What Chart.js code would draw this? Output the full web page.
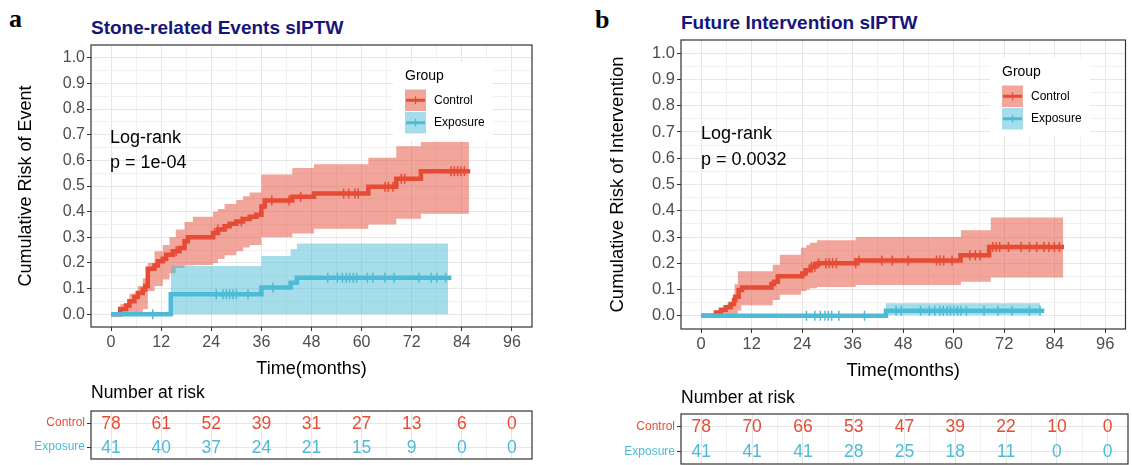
<!DOCTYPE html>
<html>
<head>
<meta charset="utf-8">
<script src="https://cdn.jsdelivr.net/npm/chart.js@4.4.1/dist/chart.umd.min.js"></script>
<style>
html, body { margin: 0; padding: 0; background: #fff; }
body { width: 1132px; height: 465px; position: relative; overflow: hidden; font-family: "Liberation Sans", Arial, sans-serif; }
canvas { position: absolute; }
.txt { position: absolute; white-space: nowrap; line-height: 1; color: #000; }
.letter { font-family: "Liberation Serif", serif; font-weight: bold; font-size: 26px; }
.title { font-weight: bold; font-size: 19px; color: #16167a; }
.pval { font-size: 18px; }
.nrisk { font-size: 17.5px; }
</style>
</head>
<body>
<div class="txt letter" style="left:9px;top:6px;">a</div>
<div class="txt title" style="left:91px;top:18px;">Stone-related Events sIPTW</div>
<div class="txt letter" style="left:595px;top:7px;">b</div>
<div class="txt title" style="left:681px;top:13px;">Future Intervention sIPTW</div>

<canvas id="plotA" width="560" height="390" style="left:0;top:0;"></canvas>
<canvas id="plotB" width="562" height="390" style="left:570px;top:0;"></canvas>
<canvas id="tableA" width="560" height="67" style="left:0;top:398px;"></canvas>
<canvas id="tableB" width="562" height="63" style="left:570px;top:402px;"></canvas>

<div class="txt pval" style="left:110px;top:128px;">Log-rank</div>
<div class="txt pval" style="left:110px;top:153px;">p = 1e-04</div>
<div class="txt pval" style="left:701px;top:124px;">Log-rank</div>
<div class="txt pval" style="left:701px;top:150px;">p = 0.0032</div>
<div class="txt nrisk" style="left:91px;top:384px;">Number at risk</div>
<div class="txt nrisk" style="left:681px;top:389px;">Number at risk</div>

<script>
// axis breaks
const months = [0, 12, 24, 36, 48, 60, 72, 84, 96];
const riskBreaks = [0, 0.1, 0.2, 0.3, 0.4, 0.5, 0.6, 0.7, 0.8, 0.9, 1.0];
const groups = ['Control', 'Exposure'];

// ---- panel a: stone-related events ----
const aCtrlT = [0, 2.2, 3.6, 4.4, 5.6, 6.4, 7.6, 8.2, 8.8, 10.4, 11.2, 12.4, 13.2, 14.8, 16.4, 17.6, 18.4, 24.4, 25.6, 27.2, 28.4, 30, 31.6, 33.2, 34.8, 36, 36.8, 43.4, 48.6, 61.6, 68.3, 74.2, 86];
const aCtrlY = [0, 0.02, 0.034, 0.05, 0.067, 0.083, 0.096, 0.11, 0.177, 0.19, 0.206, 0.216, 0.232, 0.245, 0.258, 0.284, 0.30, 0.317, 0.33, 0.343, 0.353, 0.362, 0.371, 0.38, 0.388, 0.42, 0.443, 0.458, 0.471, 0.497, 0.528, 0.558, 0.558];
const aCtrlBandT = [2.2, 4.4, 6.4, 7.6, 8.8, 10.4, 12.4, 14, 15.5, 17.6, 19.6, 24.4, 25.6, 27.2, 30, 31.6, 33.2, 36, 43.4, 48.6, 61.6, 68.3, 74.2, 85.7];
const aCtrlLo = [0, 0, 0.005, 0.02, 0.09, 0.11, 0.135, 0.16, 0.18, 0.19, 0.192, 0.2, 0.215, 0.23, 0.245, 0.26, 0.27, 0.30, 0.315, 0.333, 0.35, 0.372, 0.392, 0.392];
const aCtrlHi = [0.04, 0.08, 0.11, 0.14, 0.2, 0.245, 0.27, 0.3, 0.33, 0.36, 0.38, 0.40, 0.41, 0.43, 0.445, 0.46, 0.475, 0.545, 0.57, 0.585, 0.61, 0.655, 0.672, 0.672];
const aCtrlCens = [15.6, 24.8, 25.6, 31.2, 38.5, 42.6, 45.4, 55.7, 56.9, 58.4, 59.2, 65.6, 66.4, 67.5, 69.5, 70.3, 81.4, 82.2, 83, 83.8, 84.6];

const aExpT = [0, 14.3, 36, 43, 44.5, 81.5];
const aExpY = [0, 0.078, 0.104, 0.123, 0.142, 0.142];
const aExpBandT = [14.3, 36, 43, 44.5, 80.7];
const aExpLo = [0, 0, 0, 0, 0];
const aExpHi = [0.188, 0.227, 0.253, 0.276, 0.276];
const aExpCens = [10, 25.2, 26.8, 27.6, 28.4, 29.2, 30, 32.8, 38.8, 51.9, 54.2, 55.4, 56.3, 57.1, 58, 58.8, 61.4, 62.7, 65.6, 67.8, 73.7, 76.7, 78, 80.1];

const aRiskCtrl = [78, 61, 52, 39, 31, 27, 13, 6, 0];
const aRiskExp = [41, 40, 37, 24, 21, 15, 9, 0, 0];

// ---- panel b: future intervention ----
const bCtrlT = [0, 3.5, 4.7, 5.8, 7, 7.8, 8.1, 8.9, 9.7, 16.7, 17.3, 18.2, 24, 24.8, 26, 27.1, 27.9, 36.8, 61.6, 68.4, 86.2];
const bCtrlY = [0, 0.013, 0.023, 0.033, 0.045, 0.06, 0.073, 0.098, 0.108, 0.121, 0.13, 0.151, 0.161, 0.174, 0.187, 0.197, 0.2, 0.211, 0.231, 0.262, 0.262];
const bCtrlBandT = [3.5, 6.2, 7.9, 8.7, 9.5, 17, 18.7, 23.7, 25, 25.8, 27.5, 36.7, 61.7, 68.8, 86];
const bCtrlLo = [0, 0.003, 0.008, 0.02, 0.04, 0.06, 0.08, 0.095, 0.1, 0.105, 0.11, 0.117, 0.13, 0.146, 0.146];
const bCtrlHi = [0.02, 0.048, 0.12, 0.17, 0.17, 0.195, 0.233, 0.259, 0.27, 0.278, 0.288, 0.30, 0.326, 0.374, 0.374];
const bCtrlCens = [26.2, 27, 27.9, 29.6, 30.4, 31.2, 32.1, 36.7, 37.5, 42.9, 45.4, 49.2, 55.9, 56.7, 57.6, 59.6, 63.8, 65.1, 66.3, 69.3, 70.1, 70.9, 73, 76, 78, 79.7, 81.4, 82.6, 83.9, 85.1];

const bExpT = [0, 43.9, 81.5];
const bExpY = [0, 0.019, 0.019];
const bExpBandT = [43.9, 80.5];
const bExpLo = [0.003, 0.003];
const bExpHi = [0.048, 0.048];
const bExpCens = [25, 27, 28.3, 29.4, 30.2, 31, 32.7, 38.8, 46.3, 47.5, 52.1, 54.2, 55.5, 56.7, 57.5, 58.4, 59.2, 60, 60.9, 61.7, 63, 67.2, 70.5, 73.8, 78, 80.5];

const bRiskCtrl = [78, 70, 66, 53, 47, 39, 22, 10, 0];
const bRiskExp = [41, 41, 41, 28, 25, 18, 11, 0, 0];

// ---- styling ----
const FONT = '"Liberation Sans", Arial, sans-serif';
const RED = '#E64B35', BLUE = '#4DBBD5';
const RED_FILL = 'rgba(230,75,53,0.5)', BLUE_FILL = 'rgba(77,187,213,0.5)';
const GRID_MAJOR = '#e6e6e6', GRID_MINOR = '#f1f1f1';
const TICK_TXT = '#4d4d4d';
const NONE = 'rgba(0,0,0,0)';

function xy(t, y) { return t.map((v, i) => ({ x: v, y: y[i] })); }
function valueAt(t, y, x) {
    let v = y[0];
    for (let i = 0; i < t.length; i++) if (t[i] <= x) v = y[i];
    return v;
}
function censored(t, y, c) { return c.map(x => ({ x: x, y: valueAt(t, y, x) })); }
// breaks plus the minor lines half way
function withMinor(br) {
    let out = [];
    for (let i = 0; i < br.length; i++) {
        out.push(br[i]);
        if (i < br.length - 1) out.push((br[i] + br[i + 1]) / 2);
    }
    return out;
}
const isMajor = (br, v) => br.some(b => Math.abs(b - v) < 1e-9);

function gridOpts(br, tickLen) {
    return {
        color: c => (c.tick && isMajor(br, c.tick.value)) ? GRID_MAJOR : GRID_MINOR,
        lineWidth: 1,
        tickLength: tickLen,
        tickColor: c => (c.tick && isMajor(br, c.tick.value)) ? '#333' : NONE,
        tickWidth: 1
    };
}

const panelBorder = {
    id: 'panelBorder',
    afterDatasetsDraw(chart) {
        const a = chart.chartArea, c = chart.ctx;
        c.save();
        c.strokeStyle = '#333';
        c.lineWidth = 1.2;
        c.strokeRect(a.left, a.top, a.right - a.left, a.bottom - a.top);
        c.restore();
    }
};

function groupLegend(L) {
    return {
        id: 'groupLegend',
        beforeDatasetsDraw(chart) {
            const c = chart.ctx;
            c.save();
            c.fillStyle = '#fff';
            c.fillRect(L.x - 12, L.titleY - 14, 100, L.keyY + 2 * L.keyH + 6 - (L.titleY - 14));
            c.textBaseline = 'middle';
            c.textAlign = 'left';
            c.fillStyle = '#000';
            c.font = L.titleSize + 'px ' + FONT;
            c.fillText('Group', L.x, L.titleY);
            const cols = [RED, BLUE], fills = [RED_FILL, BLUE_FILL];
            groups.forEach((g, i) => {
                const y = L.keyY + i * L.keyH;
                const cy = y + L.keyH / 2;
                c.fillStyle = fills[i];
                c.fillRect(L.x, y + 0.5, L.keyW, L.keyH - 1);
                c.strokeStyle = cols[i];
                c.lineWidth = 3;
                c.beginPath(); c.moveTo(L.x + 1, cy); c.lineTo(L.x + L.keyW - 1, cy); c.stroke();
                c.lineWidth = 1.2;
                c.beginPath(); c.moveTo(L.x + L.keyW / 2, cy - 4); c.lineTo(L.x + L.keyW / 2, cy + 4); c.stroke();
                c.fillStyle = '#000';
                c.font = L.labelSize + 'px ' + FONT;
                c.fillText(g, L.x + L.keyW + 8, cy);
            });
            c.restore();
        }
    };
}

function survChart(id, o) {
    const line = (d, col) => ({ data: d, stepped: true, borderColor: col, borderWidth: 4.5, pointRadius: 0, fill: false });
    const band = (d, fill, col) => ({ data: d, stepped: true, borderColor: NONE, borderWidth: 1, pointRadius: 0, fill: fill, backgroundColor: col });
    const marks = (d, col) => ({ data: d, showLine: false, pointStyle: 'line', pointRotation: 90, pointRadius: 5, pointBorderWidth: 1.5, pointBorderColor: col, borderColor: col });
    return new Chart(document.getElementById(id), {
        type: 'line',
        data: {
            datasets: [
                marks(censored(o.expT, o.expY, o.expCens), BLUE),
                marks(censored(o.ctrlT, o.ctrlY, o.ctrlCens), RED),
                line(xy(o.expT, o.expY), BLUE),
                line(xy(o.ctrlT, o.ctrlY), RED),
                band(xy(o.expBandT, o.expHi), '+1', BLUE_FILL),
                band(xy(o.expBandT, o.expLo), false, NONE),
                band(xy(o.ctrlBandT, o.ctrlHi), '+1', RED_FILL),
                band(xy(o.ctrlBandT, o.ctrlLo), false, NONE)
            ]
        },
        options: {
            animation: false,
            responsive: false,
            events: [],
            layout: { padding: { top: o.top, right: o.right, left: 0, bottom: 0 } },
            plugins: { legend: { display: false }, tooltip: { enabled: false } },
            scales: {
                x: {
                    type: 'linear', min: -4.8, max: 100.8,
                    afterBuildTicks: s => { s.ticks = withMinor(months).map(v => ({ value: v })); },
                    afterFit: s => { s.height = o.xHeight; },
                    ticks: {
                        autoSkip: false, maxRotation: 0, padding: 2, color: TICK_TXT,
                        font: { family: FONT, size: o.tickSize },
                        callback: v => isMajor(months, v) ? String(v) : ''
                    },
                    grid: gridOpts(months, 4),
                    border: { display: false },
                    title: { display: true, text: 'Time(months)', color: '#000', font: { family: FONT, size: o.titleSize }, padding: { top: 0, bottom: o.xTitlePad } }
                },
                y: {
                    type: 'linear', min: -0.05, max: 1.05,
                    afterBuildTicks: s => { s.ticks = withMinor(riskBreaks).map(v => ({ value: v })); },
                    afterFit: s => { s.width = o.left; },
                    ticks: {
                        autoSkip: false, padding: 2, color: TICK_TXT,
                        font: { family: FONT, size: o.tickSize },
                        callback: v => isMajor(riskBreaks, v) ? v.toFixed(1) : ''
                    },
                    grid: gridOpts(riskBreaks, 4),
                    border: { display: false },
                    title: { display: true, text: o.yTitle, color: '#000', font: { family: FONT, size: o.titleSize }, padding: { top: o.yTitlePad, bottom: 0 } }
                }
            }
        },
        plugins: [groupLegend(o.legend), panelBorder]
    });
}

const countLabels = {
    id: 'countLabels',
    afterDatasetsDraw(chart) {
        const c = chart.ctx;
        c.save();
        c.textAlign = 'center';
        c.textBaseline = 'middle';
        chart.data.datasets.forEach((ds, i) => {
            c.fillStyle = ds.textColor;
            c.font = ds.textSize + 'px ' + FONT;
            chart.getDatasetMeta(i).data.forEach((pt, j) => c.fillText(String(ds.counts[j]), pt.x, pt.y + 1));
        });
        c.restore();
    }
};

function riskTable(id, o) {
    const row = (g, counts, col) => ({
        data: months.map(m => ({ x: m, y: g })), counts: counts, textColor: col, textSize: o.numSize,
        showLine: false, pointRadius: 0
    });
    return new Chart(document.getElementById(id), {
        type: 'line',
        data: { datasets: [row(groups[0], o.ctrl, RED), row(groups[1], o.exp, BLUE)] },
        options: {
            animation: false,
            responsive: false,
            events: [],
            layout: { padding: { top: o.top, right: o.right, left: 0, bottom: o.bottom } },
            plugins: { legend: { display: false }, tooltip: { enabled: false } },
            scales: {
                x: {
                    type: 'linear', min: -4.8, max: 100.8,
                    afterBuildTicks: s => { s.ticks = withMinor(months).map(v => ({ value: v })); },
                    afterFit: s => { s.height = 0; },
                    ticks: { display: false },
                    grid: Object.assign(gridOpts(months, 0), { drawTicks: false }),
                    border: { display: false }
                },
                y: {
                    type: 'category', labels: groups, offset: true,
                    afterFit: s => { s.width = o.left; s.paddingTop = 0; s.paddingBottom = 0; },
                    ticks: { padding: 2, color: c => c.index === 0 ? RED : BLUE, font: { family: FONT, size: 12 } },
                    grid: { color: GRID_MAJOR, offset: false, tickLength: 4, tickColor: '#333' },
                    border: { display: false }
                }
            }
        },
        plugins: [countLabels, panelBorder]
    });
}

survChart('plotA', {
    ctrlT: aCtrlT, ctrlY: aCtrlY, ctrlBandT: aCtrlBandT, ctrlLo: aCtrlLo, ctrlHi: aCtrlHi, ctrlCens: aCtrlCens,
    expT: aExpT, expY: aExpY, expBandT: aExpBandT, expLo: aExpLo, expHi: aExpHi, expCens: aExpCens,
    top: 45, right: 28, left: 91, xHeight: 63, xTitlePad: 10, yTitlePad: 15,
    tickSize: 16, titleSize: 18, yTitle: 'Cumulative Risk of Event',
    legend: { x: 405, titleY: 76, keyY: 89, keyW: 21, keyH: 22.5, titleSize: 14, labelSize: 12 }
});
survChart('plotB', {
    ctrlT: bCtrlT, ctrlY: bCtrlY, ctrlBandT: bCtrlBandT, ctrlLo: bCtrlLo, ctrlHi: bCtrlHi, ctrlCens: bCtrlCens,
    expT: bExpT, expY: bExpY, expBandT: bExpBandT, expLo: bExpLo, expHi: bExpHi, expCens: bExpCens,
    top: 40, right: 4, left: 111, xHeight: 61, xTitlePad: 8, yTitlePad: 37,
    tickSize: 16.5, titleSize: 18.5, yTitle: 'Cumulative Risk of Intervention',
    legend: { x: 432, titleY: 72, keyY: 85, keyW: 21, keyH: 22.5, titleSize: 14, labelSize: 12 }
});
riskTable('tableA', { ctrl: aRiskCtrl, exp: aRiskExp, top: 13, bottom: 6, right: 28, left: 91, numSize: 17.5 });
riskTable('tableB', { ctrl: bRiskCtrl, exp: bRiskExp, top: 12, bottom: 1, right: 4, left: 111, numSize: 17.5 });
</script>
</body>
</html>
